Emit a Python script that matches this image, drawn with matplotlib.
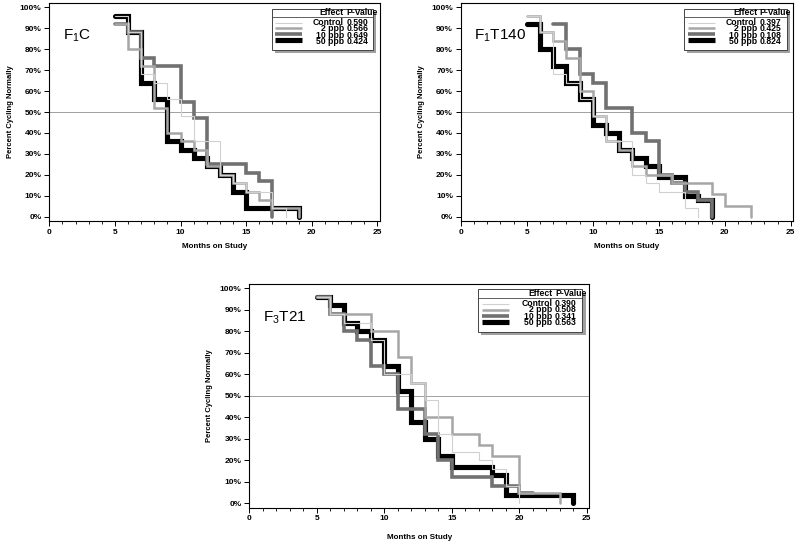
import matplotlib
matplotlib.use('Agg')
import matplotlib.pyplot as plt
from matplotlib.patches import Rectangle
from matplotlib.ticker import MultipleLocator, FuncFormatter

plt.rcParams['font.family'] = ['Liberation Sans', 'DejaVu Sans']
plt.rcParams['mathtext.fontset'] = 'custom'
plt.rcParams['mathtext.rm'] = 'Liberation Sans'

EFFECTS = ['Control', '2 ppb', '10 ppb', '50 ppb']
COLORS = ['#d0d0d0', '#a6a6a6', '#717171', '#000000']
WIDTHS = [0.8, 1.8, 2.6, 3.7]

# (months, percent cycling) change points of each step curve
f1c_control = ([5, 6, 7, 8, 9, 10, 11, 13, 14, 15, 17, 18],
               [96, 88, 68, 64, 56, 48, 36, 20, 16, 12, 4, 0])
f1c_2ppb = ([5, 6, 7, 8, 9, 10, 11, 12, 13, 14, 15, 16, 17, 19],
            [92, 80, 72, 52, 40, 36, 32, 24, 20, 16, 12, 8, 4, 0])
f1c_10ppb = ([5, 6, 7, 8, 10, 11, 12, 15, 16, 17],
             [92, 88, 76, 72, 55, 47, 25, 21, 17, 0])
f1c_50ppb = ([5, 6, 7, 8, 9, 10, 11, 12, 13, 14, 15, 19],
             [96, 88, 64, 56, 36, 32, 28, 24, 20, 12, 4, 0])
f1c_pvalues = ['0.590', '0.566', '0.649', '0.424']

f1t140_control = ([5, 6, 7, 8, 9, 10, 11, 13, 14, 15, 17, 18],
                  [96, 88, 68, 64, 56, 48, 36, 20, 16, 12, 4, 0])
f1t140_2ppb = ([5, 6, 7, 8, 9, 10, 11, 12, 13, 14, 16, 19, 20, 22],
               [96, 88, 84, 76, 60, 48, 36, 32, 24, 20, 16, 11, 5, 0])
f1t140_10ppb = ([7, 8, 9, 10, 11, 13, 14, 15, 16, 17, 18, 19],
                [92, 80, 68, 64, 52, 40, 36, 20, 16, 12, 8, 0])
f1t140_50ppb = ([5, 6, 7, 8, 9, 10, 11, 12, 13, 14, 15, 17, 18, 19],
                [92, 80, 72, 64, 56, 44, 40, 32, 28, 24, 19, 10, 8, 0])
f1t140_pvalues = ['0.397', '0.425', '0.108', '0.824']

f3t21_control = ([5, 6, 7, 9, 10, 12, 13, 14, 15, 17, 18, 19, 20],
                 [96, 88, 84, 76, 60, 56, 48, 32, 24, 20, 16, 8, 0])
f3t21_2ppb = ([5, 6, 9, 11, 12, 13, 15, 17, 18, 20, 23],
              [96, 88, 80, 68, 56, 40, 32, 27, 22, 5, 0])
f3t21_10ppb = ([5, 6, 7, 8, 9, 10, 11, 13, 14, 15, 18, 20, 21],
               [96, 88, 80, 76, 64, 60, 44, 32, 20, 12, 8, 5, 5])
f3t21_50ppb = ([5, 6, 7, 8, 9, 10, 11, 12, 13, 14, 15, 18, 19, 24],
               [96, 92, 84, 80, 76, 64, 52, 38, 30, 22, 17, 13, 4, 0])
f3t21_pvalues = ['0.390', '0.508', '0.341', '0.563']


def draw_key(ax, pvalues):
    x0, x1, y0, y1 = 0.672, 0.980, 0.785, 0.975
    ax.add_patch(Rectangle((x0 + 0.009, y0 - 0.014), x1 - x0, y1 - y0, transform=ax.transAxes,
                           facecolor='#a0a0a0', edgecolor='none', zorder=8, clip_on=False))
    ax.add_patch(Rectangle((x0, y0), x1 - x0, y1 - y0, transform=ax.transAxes,
                           facecolor='white', edgecolor='#444444', lw=0.7, zorder=9))
    ax.plot([x0, x1], [0.938, 0.938], transform=ax.transAxes, color='#444444', lw=0.6, zorder=10)
    font = dict(fontsize=6.2, fontweight='bold', zorder=11, transform=ax.transAxes)
    ax.text(0.891, 0.959, 'Effect', ha='right', va='center', **font)
    ax.text(0.899, 0.959, 'P-Value', ha='left', va='center', **font)
    rows = [0.910, 0.884, 0.858, 0.830]
    for c, w, y in zip(COLORS, WIDTHS, rows):
        ax.plot([0.683, 0.763], [y, y], transform=ax.transAxes, color=c, lw=w,
                solid_capstyle='butt', zorder=10)
    # rows are packed tightly, as in the source figure
    ax.text(0.891, 0.932, '\n'.join(EFFECTS), ha='right', va='top', multialignment='right',
            linespacing=0.62, **font)
    ax.text(0.899, 0.932, '\n'.join(pvalues), ha='left', va='top', linespacing=0.62, **font)


def draw_panel(fig, rect, title, curves, pvalues, xlabel_y):
    ax = fig.add_axes(rect)
    ax.axhline(50, color='#a0a0a0', lw=0.7, zorder=1)
    # heaviest line first so the lighter ones sit on top of it
    for i in (3, 2, 1, 0):
        t, p = curves[i]
        ax.plot(t, p, drawstyle='steps-post', color=COLORS[i], lw=WIDTHS[i],
                solid_capstyle='round', solid_joinstyle='miter', zorder=2 + (3 - i))
    ax.set_xlim(0, 25.2)
    ax.set_ylim(-2, 102)
    ax.xaxis.set_major_locator(MultipleLocator(5))
    ax.xaxis.set_minor_locator(MultipleLocator(1))
    ax.yaxis.set_major_locator(MultipleLocator(10))
    ax.yaxis.set_major_formatter(FuncFormatter(lambda v, _: f'{v:.0f}%'))
    ax.tick_params(which='major', direction='out', length=3.5, width=0.7, labelsize=6, pad=2)
    ax.tick_params(which='minor', direction='out', length=2, width=0.6)
    for lab in ax.get_xticklabels() + ax.get_yticklabels():
        lab.set_fontweight('bold')
    for s in ax.spines.values():
        s.set_linewidth(0.8)
    ax.set_xlabel('Months on Study', fontsize=5.8, fontweight='bold')
    ax.set_ylabel('Percent Cycling Normally', fontsize=5.5, fontweight='bold')
    ax.xaxis.set_label_coords(0.5, xlabel_y)
    ax.yaxis.set_label_coords(-0.108, 0.5)
    ax.text(0.04, 0.85, title, transform=ax.transAxes, fontsize=11, ha='left', va='center')
    draw_key(ax, pvalues)
    return ax


fig = plt.figure(figsize=(8, 5.47), dpi=100)
draw_panel(fig, [0.0616, 0.5962, 0.4134, 0.398], 'F$_1$C',
           [f1c_control, f1c_2ppb, f1c_10ppb, f1c_50ppb], f1c_pvalues, -0.1)
draw_panel(fig, [0.5759, 0.5962, 0.4158, 0.398], 'F$_1$T140',
           [f1t140_control, f1t140_2ppb, f1t140_10ppb, f1t140_50ppb], f1t140_pvalues, -0.1)
draw_panel(fig, [0.3116, 0.072, 0.425, 0.409], 'F$_3$T21',
           [f3t21_control, f3t21_2ppb, f3t21_10ppb, f3t21_50ppb], f3t21_pvalues, -0.12)

fig.savefig('out.png', dpi=100)
plt.close(fig)
